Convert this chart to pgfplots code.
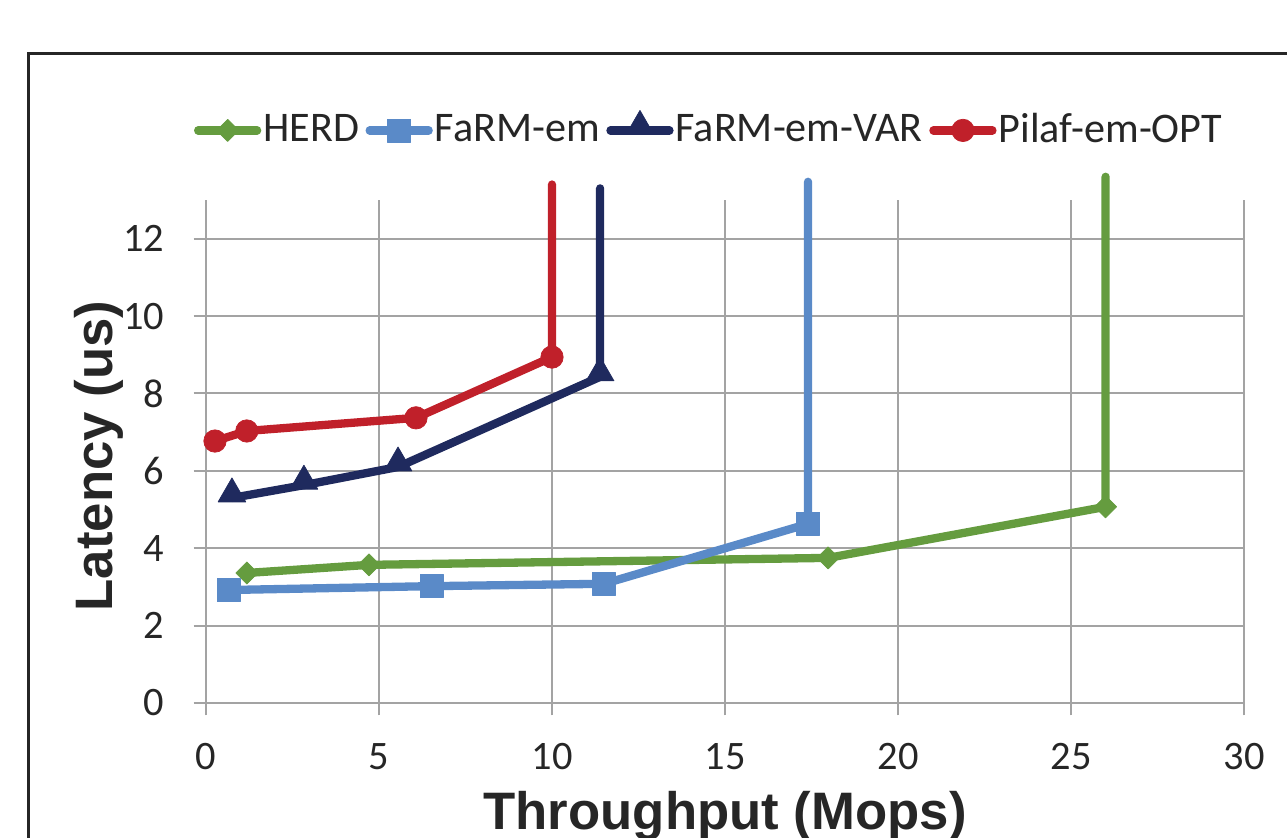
\documentclass[border=0pt]{standalone}
\usepackage{pgfplots}
\pgfplotsset{compat=1.18}
\usepackage{fontspec}
\setmainfont{Carlito}
\newfontfamily\labelfont{Liberation Sans}

\definecolor{herdgreen}{HTML}{659C3F}
\definecolor{farmblue}{HTML}{5A8AC8}
\definecolor{varnavy}{HTML}{1F2A5E}
\definecolor{pilafred}{HTML}{C0202A}
\definecolor{gridgray}{HTML}{A3A3A3}
\definecolor{txt}{HTML}{262626}

\begin{document}
\begin{tikzpicture}
\useasboundingbox (0,0) rectangle (128.7mm,83.8mm);
\clip (0,0) rectangle (128.7mm,83.8mm);
% outer frame (cut by the picture edge)
\draw[line width=0.3mm, color=black!85] (2.85mm,-2mm) -- (2.85mm,78.45mm) -- (132mm,78.45mm);

\begin{axis}[
  at={(20.6mm,13.5mm)}, anchor=south west,
  scale only axis, width=103.8mm, height=50.3mm,
  xmin=0, xmax=30, ymin=0, ymax=13,
  xtick={0,5,...,30}, ytick={0,2,...,12},
  grid=major, major grid style={color=gridgray, line width=0.2mm},
  axis line style={draw=none},
  tick align=outside, xtick pos=bottom, ytick pos=left,
  major tick length=1.25mm,
  tick style={color=gridgray, line width=0.2mm},
  tick label style={font=\fontsize{11.5}{13}\selectfont, color=txt},
  /pgf/number format/assume math mode=true,
  xticklabel style={inner sep=0pt, yshift=-2.75mm},
  yticklabel style={inner sep=0pt, xshift=-2.85mm},
  xlabel={Throughput (Mops)}, ylabel={Latency (us)},
  label style={font=\labelfont\bfseries\fontsize{15}{18}\selectfont, color=txt},
  xlabel style={at={(axis description cs:0.5,-0.2525)}, anchor=base},
  ylabel style={at={(axis description cs:-0.0896,0.491)}, anchor=base},
  clip=false,
  legend columns=4,
  legend style={draw=none, fill=none, at={(0.4846,1.139)}, anchor=center,
    inner sep=0pt, font=\fontsize{12}{14}\selectfont, text=txt,
    nodes={inner sep=0.2mm},
    /tikz/every even column/.append style={column sep=0.45mm}},
  legend image code/.code={\draw[#1, mark indices={2}] plot coordinates {(0mm,0mm) (2.95mm,0mm) (5.9mm,0mm)};},
  every axis plot/.append style={line width=0.83mm, line cap=round, line join=round},
]
% HERD
\addplot[herdgreen, mark=square*, mark size=0.78mm, mark indices={1,2,3,4},
  mark options={solid, rotate=45, line width=0.2pt}]
  coordinates {(1.18,3.36) (4.71,3.57) (17.98,3.75) (26.0,5.07) (26.0,13.6)};
\addlegendentry{HERD}
% FaRM-em
\addplot[farmblue, mark=square*, mark size=1.15mm, mark indices={1,2,3,4},
  mark options={solid, line width=0.2pt}]
  coordinates {(0.66,2.92) (6.53,3.02) (11.5,3.08) (17.4,4.63) (17.4,13.47)};
\addlegendentry{FaRM-em}
% FaRM-em-VAR
\addplot[varnavy, mark=triangle*, mark size=1.6mm, mark indices={1,2,3,4},
  mark options={solid, line width=0.2pt, yshift=0.4mm}]
  coordinates {(0.75,5.30) (2.83,5.63) (5.55,6.10) (11.39,8.43) (11.39,13.3)};
\addlegendentry{FaRM-em-VAR}
% Pilaf-em-OPT
\addplot[pilafred, mark=*, mark size=1.12mm, mark indices={1,2,3,4},
  mark options={solid, line width=0.2pt}]
  coordinates {(0.26,6.77) (1.18,7.03) (6.07,7.37) (10.0,8.94) (10.0,13.4)};
\addlegendentry{Pilaf-em-OPT}
\end{axis}
\end{tikzpicture}
\end{document}
